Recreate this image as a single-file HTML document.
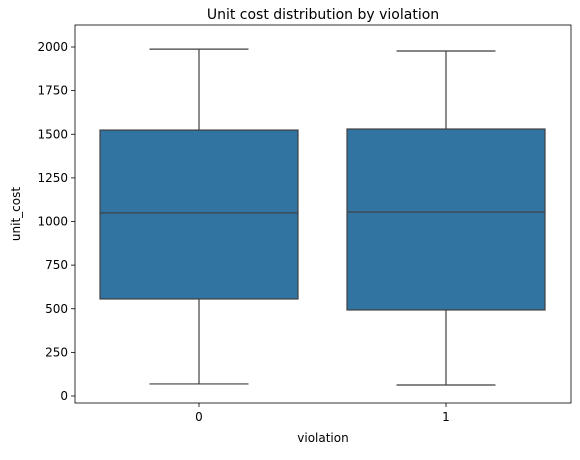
<!DOCTYPE html>
<html><head><meta charset="utf-8"><style>
body{margin:0;background:#fff;font-family:"Liberation Sans","DejaVu Sans",sans-serif;}
</style></head><body>
<svg width="580" height="455" xmlns="http://www.w3.org/2000/svg" font-family="DejaVu Sans, Liberation Sans, sans-serif">
<rect width="580" height="455" fill="#fff"/>
<text x="323" y="19" font-size="14" text-anchor="middle" fill="#000">Unit cost distribution by violation</text>
<g id="plot"></g>
<rect x="75" y="25" width="496" height="378" fill="none" stroke="#000" stroke-width="0.8"/>
<text x="323" y="442" font-size="12" text-anchor="middle">violation</text>
<text x="20" y="214" font-size="12" text-anchor="middle" transform="rotate(-90 20 214)">unit_cost</text>
</svg>
<script>
const categories=["0","1"];
const whiskerLow=[69,63];
const q1=[556,493];
const median=[1049,1054];
const q3=[1524,1530];
const whiskerHigh=[1988,1977];
const yTicks=[0,250,500,750,1000,1250,1500,1750,2000];
const NS="http://www.w3.org/2000/svg";
const g=document.getElementById('plot');
const y=v=>396-v*0.1745;
const x=i=>199+i*247;
const bw=198;
function mk(t,a){const e=document.createElementNS(NS,t);for(const k in a)e.setAttribute(k,a[k]);g.appendChild(e);return e;}
yTicks.forEach(t=>{
 const l=mk('line',{x1:71,x2:75,y1:y(t),y2:y(t),stroke:'#000','stroke-width':0.8});
 
 
 const tx=mk('text',{x:68,y:y(t)+4,'font-size':12,'text-anchor':'end'});tx.textContent=t;
 
 
});
categories.forEach((c,i)=>{
 const cx=x(i);
 const t=mk('line',{x1:cx,x2:cx,y1:403,y2:407,stroke:'#000','stroke-width':0.8});
 
 
 const tx=mk('text',{x:cx,y:421,'font-size':12,'text-anchor':'middle'});tx.textContent=c;
 
 
 const s={stroke:'#3f3f3f','stroke-width':1.2};
 const w1=mk('line',Object.assign({x1:cx,x2:cx,y1:y(whiskerLow[i]),y2:y(q1[i])},s));
 
 
 const w2=mk('line',Object.assign({x1:cx,x2:cx,y1:y(q3[i]),y2:y(whiskerHigh[i])},s));
 
 
 const c1=mk('line',Object.assign({x1:cx-bw/4,x2:cx+bw/4,y1:y(whiskerLow[i]),y2:y(whiskerLow[i])},s));
 
 
 const c2=mk('line',Object.assign({x1:cx-bw/4,x2:cx+bw/4,y1:y(whiskerHigh[i]),y2:y(whiskerHigh[i])},s));
 
 
 const b=mk('rect',Object.assign({x:cx-bw/2,y:y(q3[i]),width:bw,height:y(q1[i])-y(q3[i]),fill:'#3274a1'},s));
 
 
 const m=mk('line',Object.assign({x1:cx-bw/2,x2:cx+bw/2,y1:y(median[i]),y2:y(median[i])},s));
 
 
});
</script>
</body></html>
